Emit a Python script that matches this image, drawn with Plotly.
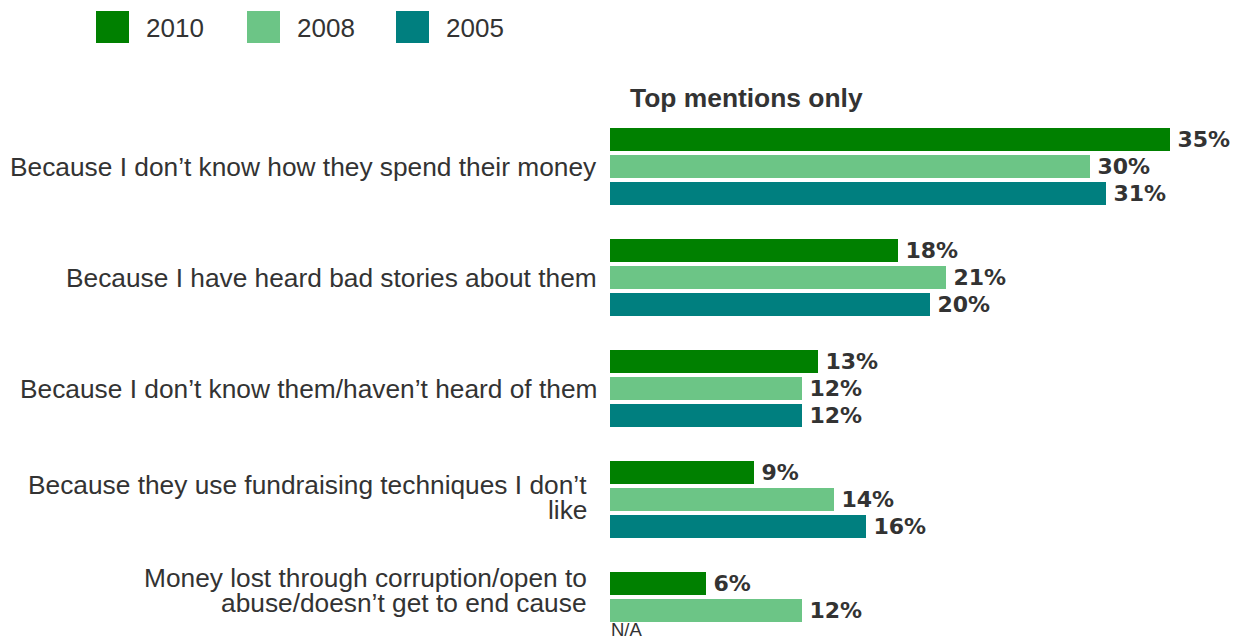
import plotly.graph_objects as go

# Reasons for not trusting charities, share of respondents (%)
reasons = [
    ["Because I don’t know how they spend their money"],
    ["Because I have heard bad stories about them"],
    ["Because I don’t know them/haven’t heard of them"],
    ["Because they use fundraising techniques I don’t", "like"],
    ["Money lost through corruption/open to", "abuse/doesn’t get to end cause"],
]
years = ["2010", "2008", "2005"]
values_2010 = [35, 18, 13, 9, 6]
values_2008 = [30, 21, 12, 14, 12]
values_2005 = [31, 20, 12, 16, None]
colors = {"2010": "#008000", "2008": "#6CC586", "2005": "#007F7F"}

series = {"2010": values_2010, "2008": values_2008, "2005": values_2005}
categories = [" ".join(r) for r in reasons]

W, H = 1240, 639
ML, MR, MT, MB = 610, 0, 111, 0
PX_PER_PCT = 16.0
plot_w = W - ML - MR
plot_h = H - MT - MB
GROUP_PX = 111

TEXT = "#333333"
SANS = "Liberation Sans, Arial, sans-serif"


def px_x(px):
    return (px - ML) / plot_w


def px_y(py):
    return 1 - (py - MT) / plot_h


fig = go.Figure()
for yr in years:
    vals = series[yr]
    fig.add_trace(go.Bar(
        name=yr,
        orientation="h",
        y=categories,
        x=vals,
        marker=dict(color=colors[yr], line=dict(width=0)),
        text=[f"\u2009{v}%" if v is not None else None for v in vals],
        textposition="outside",
        constraintext="none",
        textfont=dict(family="DejaVu Sans", size=22, color=TEXT, weight="bold"),
        cliponaxis=False,
        showlegend=False,
        hoverinfo="skip",
    ))

annotations = []

# Category labels to the left of each bar group
for cat, lines in zip(categories, reasons):
    if len(lines) == 1:
        annotations.append(dict(
            x=0, y=cat, xref="x", yref="y", text=lines[0],
            xanchor="right", yanchor="middle", xshift=-11, yshift=0,
            showarrow=False, font=dict(family=SANS, size=26.3, color=TEXT),
        ))
    else:
        base = 2 if cat == categories[3] else 20
        for i, ln in enumerate(lines):
            annotations.append(dict(
                x=0, y=cat, xref="x", yref="y", text=ln,
                xanchor="right", yanchor="middle", xshift=-21,
                yshift=base + 12.5 - 25 * i,
                showarrow=False, font=dict(family=SANS, size=26.3, color=TEXT),
            ))

# Missing 2005 value for the last reason
annotations.append(dict(
    x=0, y=categories[4], xref="x", yref="y", text="N/A",
    xanchor="left", yanchor="middle", xshift=-1, yshift=-19,
    showarrow=False, font=dict(family=SANS, size=18.5, color=TEXT),
))

# Panel heading
annotations.append(dict(
    x=px_x(628), y=px_y(98), xref="paper", yref="paper",
    text="<b>Top mentions only</b>", xanchor="left", yanchor="middle",
    showarrow=False, font=dict(family=SANS, size=26.4, color=TEXT),
))

# Legend drawn as swatches + labels across the top
shapes = []
legend_px = {"2010": 96, "2008": 247, "2005": 396}
for yr in years:
    x0 = legend_px[yr]
    shapes.append(dict(
        type="rect", xref="paper", yref="paper",
        x0=px_x(x0), x1=px_x(x0 + 33), y0=px_y(43), y1=px_y(11),
        fillcolor=colors[yr], line=dict(width=0),
    ))
    annotations.append(dict(
        x=px_x(x0 + 48), y=px_y(28), xref="paper", yref="paper",
        text=yr, xanchor="left", yanchor="middle", showarrow=False,
        font=dict(family=SANS, size=26, color=TEXT),
    ))

fig.update_layout(
    width=W, height=H,
    margin=dict(l=ML, r=MR, t=MT, b=MB, pad=0),
    paper_bgcolor="white", plot_bgcolor="white",
    barmode="group", bargap=0.27, bargroupgap=0.148,
    xaxis=dict(range=[0, plot_w / PX_PER_PCT], visible=False, fixedrange=True),
    yaxis=dict(
        type="category", categoryorder="array", categoryarray=categories,
        range=[4 + (H - MB - (MT + GROUP_PX * 4.5)) / GROUP_PX, -0.5],
        showticklabels=False, showgrid=False, zeroline=False, showline=False,
        ticks="", fixedrange=True,
    ),
    annotations=annotations,
    shapes=shapes,
    showlegend=False,
)

fig.write_html("out.html")
